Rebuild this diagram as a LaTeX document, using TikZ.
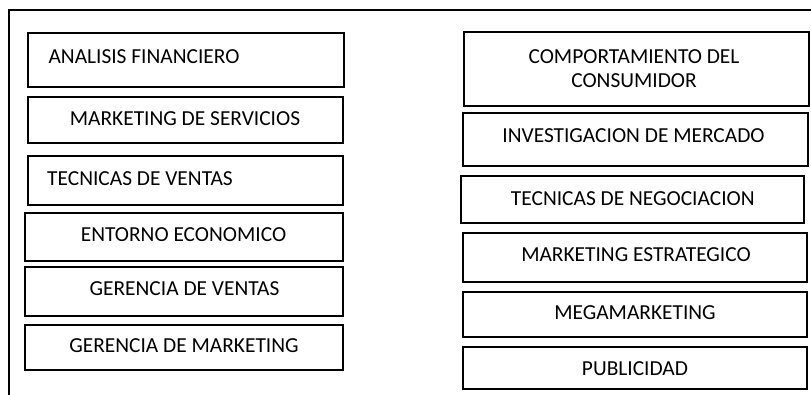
\documentclass[tikz,border=0pt]{standalone}
\usepackage{fontspec}
\setmainfont{Carlito}
\begin{document}
\begin{tikzpicture}[x=1pt,y=-1pt,
  box/.style={draw=black, line width=2.1pt, rectangle, inner sep=0pt, anchor=north west},
  lbl/.style={font=\fontsize{21.4}{23.7}\selectfont, inner sep=0pt, anchor=base},
  frame/.style={draw=black, line width=1.9pt}]
\useasboundingbox (0,0) rectangle (811,394);
% outer frame (cut off at right and bottom)
\coordinate (ftr) at (815,10);
\coordinate (ftl) at (9,10);
\coordinate (fbl) at (9,398);
\draw[frame] (ftr) -- (ftl) -- (fbl);
% left column boxes
\node[box, minimum width=316pt, minimum height=54pt] (l1) at (27,32) {};
\node[box, minimum width=315pt, minimum height=46pt] (l2) at (27,96) {};
\node[box, minimum width=315pt, minimum height=49pt] (l3) at (27,155) {};
\node[box, minimum width=318pt, minimum height=48pt] (l4) at (24,212) {};
\node[box, minimum width=318pt, minimum height=49pt] (l5) at (24,266) {};
\node[box, minimum width=318pt, minimum height=45pt] (l6) at (24,324) {};
% left column labels
\node[lbl] (t1) at (144,63.3) {ANALISIS FINANCIERO};
\node[lbl] (t2) at (185,125.7) {MARKETING DE SERVICIOS};
\node[lbl] (t3) at (140,185.7) {TECNICAS DE VENTAS};
\node[lbl] (t4) at (183.5,241.3) {ENTORNO ECONOMICO};
\node[lbl] (t5) at (184.5,295.3) {GERENCIA DE VENTAS};
\node[lbl] (t6) at (184,352.3) {GERENCIA DE MARKETING};
% right column boxes
\node[box, minimum width=345pt, minimum height=74pt] (r1) at (463,31) {};
\node[box, minimum width=345pt, minimum height=53pt] (r2) at (462,112) {};
\node[box, minimum width=343pt, minimum height=47pt] (r3) at (460,175) {};
\node[box, minimum width=344pt, minimum height=49pt] (r4) at (462,232) {};
\node[box, minimum width=344pt, minimum height=45pt] (r5) at (462,291) {};
\node[box, minimum width=344pt, minimum height=42pt] (r6) at (462,346) {};
% right column labels
\node[lbl, anchor=center, align=center] (s1) at (634,68.9) {COMPORTAMIENTO DEL\\CONSUMIDOR};
\node[lbl] (s2) at (633.5,142.3) {INVESTIGACION DE MERCADO};
\node[lbl] (s3) at (632.8,205.7) {TECNICAS DE NEGOCIACION};
\node[lbl] (s4) at (636,261.7) {MARKETING ESTRATEGICO};
\node[lbl] (s5) at (635,319.3) {MEGAMARKETING};
\node[lbl] (s6) at (635,375) {PUBLICIDAD};
\end{tikzpicture}
\end{document}
